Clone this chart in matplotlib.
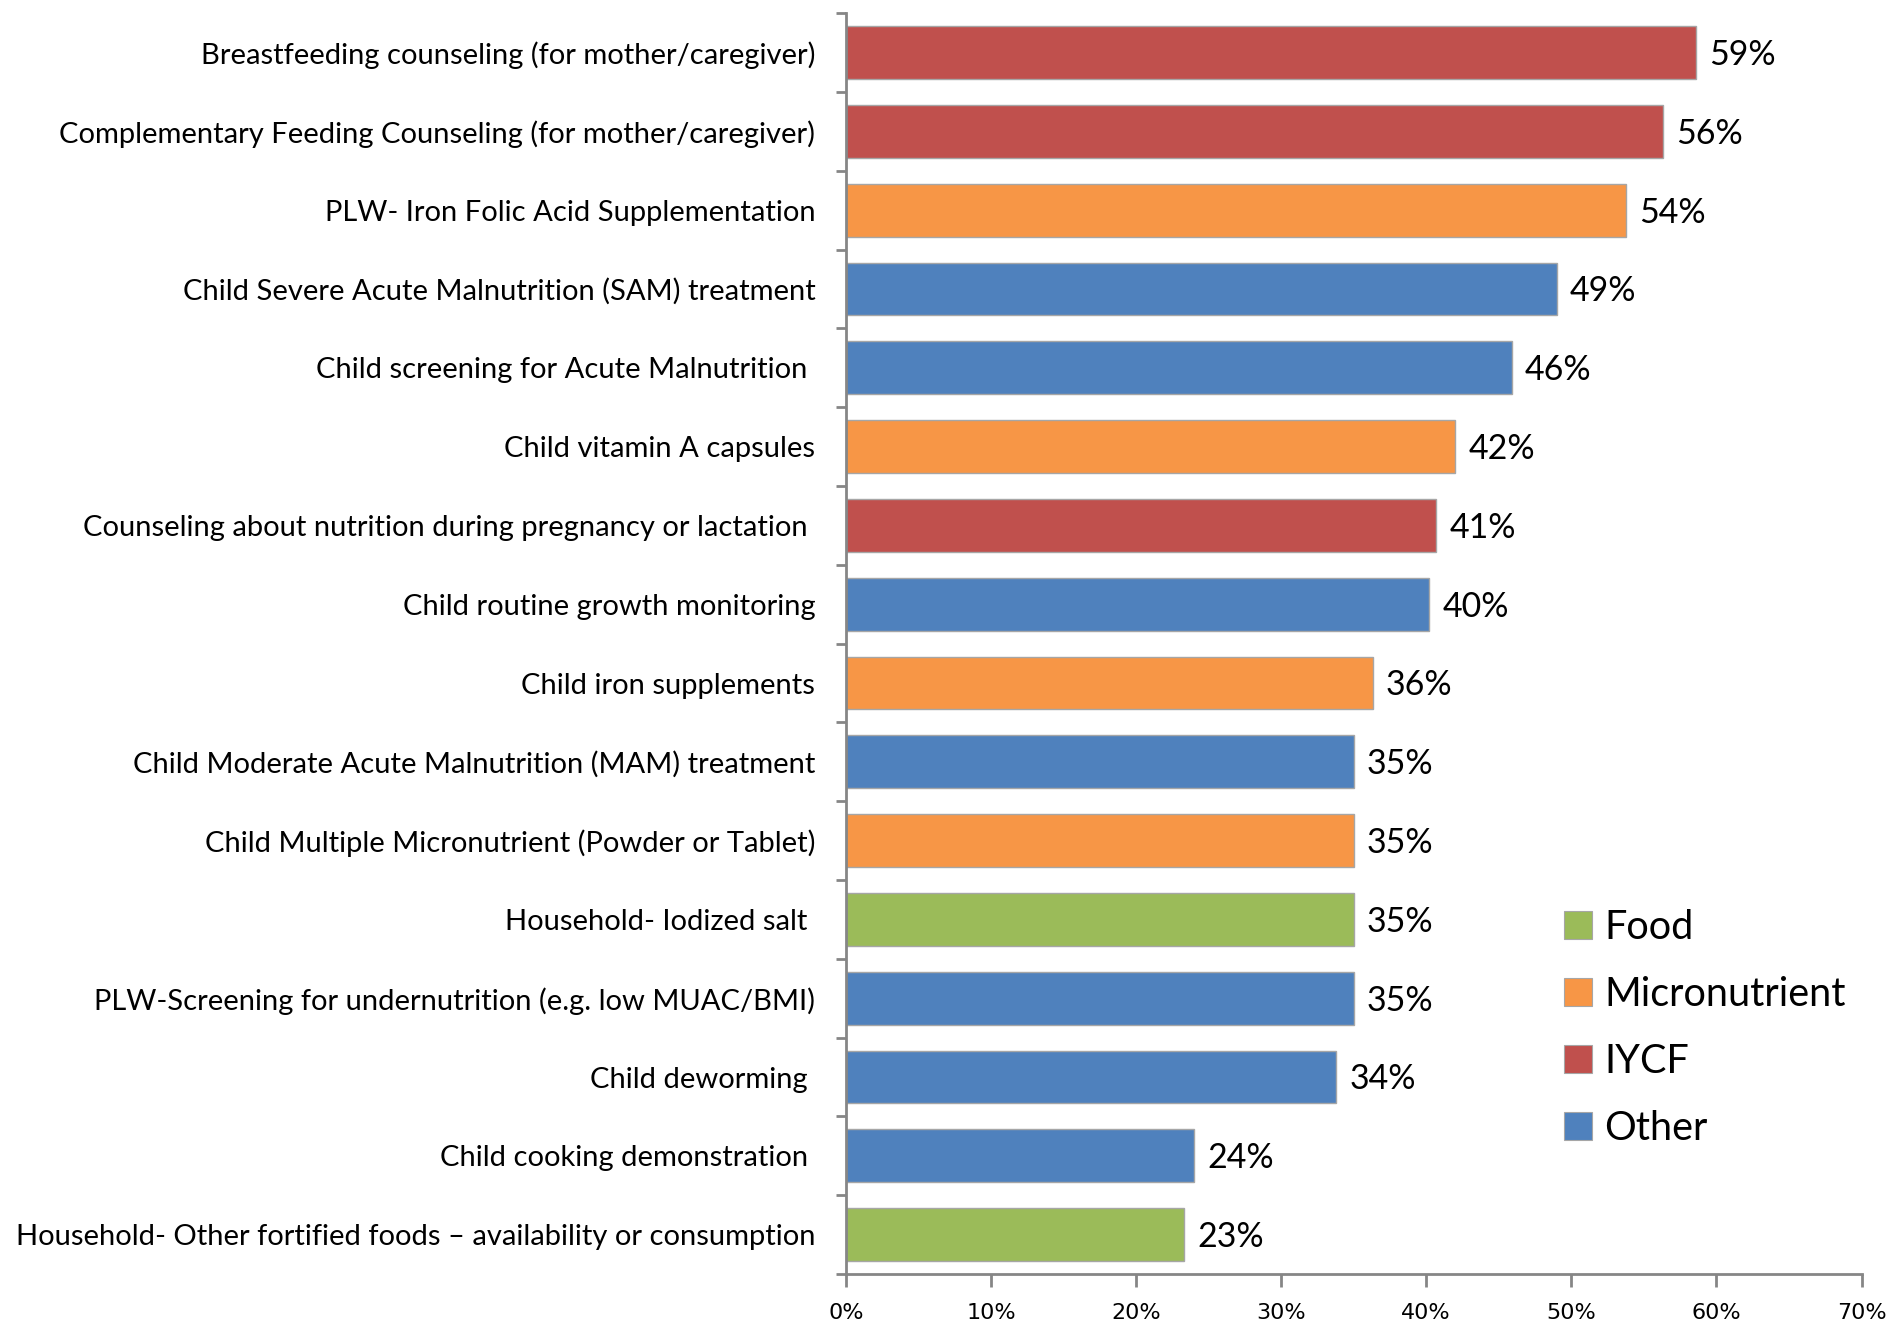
import matplotlib
matplotlib.use("Agg")
import matplotlib.pyplot as plt
from matplotlib.patches import Patch
import numpy as np

plt.rcParams['font.family'] = ['Lato', 'DejaVu Sans']

# Interventions, top to bottom
interventions = [
    "Breastfeeding counseling (for mother/caregiver)",
    "Complementary Feeding Counseling (for mother/caregiver)",
    "PLW- Iron Folic Acid Supplementation",
    "Child Severe Acute Malnutrition (SAM) treatment",
    "Child screening for Acute Malnutrition ",
    "Child vitamin A capsules",
    "Counseling about nutrition during pregnancy or lactation ",
    "Child routine growth monitoring",
    "Child iron supplements",
    "Child Moderate Acute Malnutrition (MAM) treatment",
    "Child Multiple Micronutrient (Powder or Tablet)",
    "Household- Iodized salt ",
    "PLW-Screening for undernutrition (e.g. low MUAC/BMI)",
    "Child deworming ",
    "Child cooking demonstration ",
    "Household- Other fortified foods \u2013 availability or consumption",
]
coverage = [58.6, 56.3, 53.8, 49.0, 45.9, 42.0, 40.7, 40.2,
            36.3, 35.0, 35.0, 35.0, 35.0, 33.8, 24.0, 23.3]
groups = ["IYCF", "IYCF", "Micronutrient", "Other", "Other", "Micronutrient",
          "IYCF", "Other", "Micronutrient", "Other", "Micronutrient", "Food",
          "Other", "Other", "Other", "Food"]

legend_order = ["Food", "Micronutrient", "IYCF", "Other"]
colors = {"Food": "#9BBB59", "Micronutrient": "#F79646",
          "IYCF": "#C0504D", "Other": "#4F81BD"}
x_ticks = [0, 10, 20, 30, 40, 50, 60, 70]

fig = plt.figure(figsize=(18.88, 13.23), dpi=100)
ax = fig.add_axes([0.448, 0.037, 0.538, 0.953])

y = np.arange(len(interventions))
ax.barh(y, coverage, height=0.67,
        color=[colors[g] for g in groups],
        edgecolor="#A6A6A6", linewidth=1.0)

for yi, v in zip(y, coverage):
    ax.text(v + 0.9, yi + 0.03, f"{v:.0f}%", va="center", ha="left", fontsize=24.5)

ax.set_xlim(0, 70)
ax.set_ylim(len(interventions) - 0.5, -0.5)

# category labels sit between the boundary ticks
ax.set_yticks(np.arange(len(interventions) + 1) - 0.5)
ax.set_yticklabels([])
ax.set_yticks(y, minor=True)
ax.set_yticklabels(interventions, minor=True, fontsize=21)
ax.tick_params(axis="y", which="minor", length=0, pad=22)
ax.tick_params(axis="y", which="major", length=7, width=2, color="#868686")

ax.set_xticks(x_ticks)
ax.set_xticklabels([f"{t}%" for t in x_ticks], fontsize=16,
                   family=['Liberation Sans Narrow', 'DejaVu Sans'])
ax.tick_params(axis="x", length=9, width=2, color="#868686", pad=12)

for side in ["top", "right"]:
    ax.spines[side].set_visible(False)
for side in ["left", "bottom"]:
    ax.spines[side].set_color("#868686")
    ax.spines[side].set_linewidth(2)

handles = [Patch(facecolor=colors[g], edgecolor="#A6A6A6", linewidth=0.8)
           for g in legend_order]
fig.legend(handles, legend_order, loc="upper left",
           bbox_to_anchor=(0.820, 0.325), frameon=False, fontsize=28.5,
           handlelength=0.7, handleheight=0.7, handletextpad=0.32,
           labelspacing=0.76, borderaxespad=0)

fig.savefig("out.png", dpi=100)
